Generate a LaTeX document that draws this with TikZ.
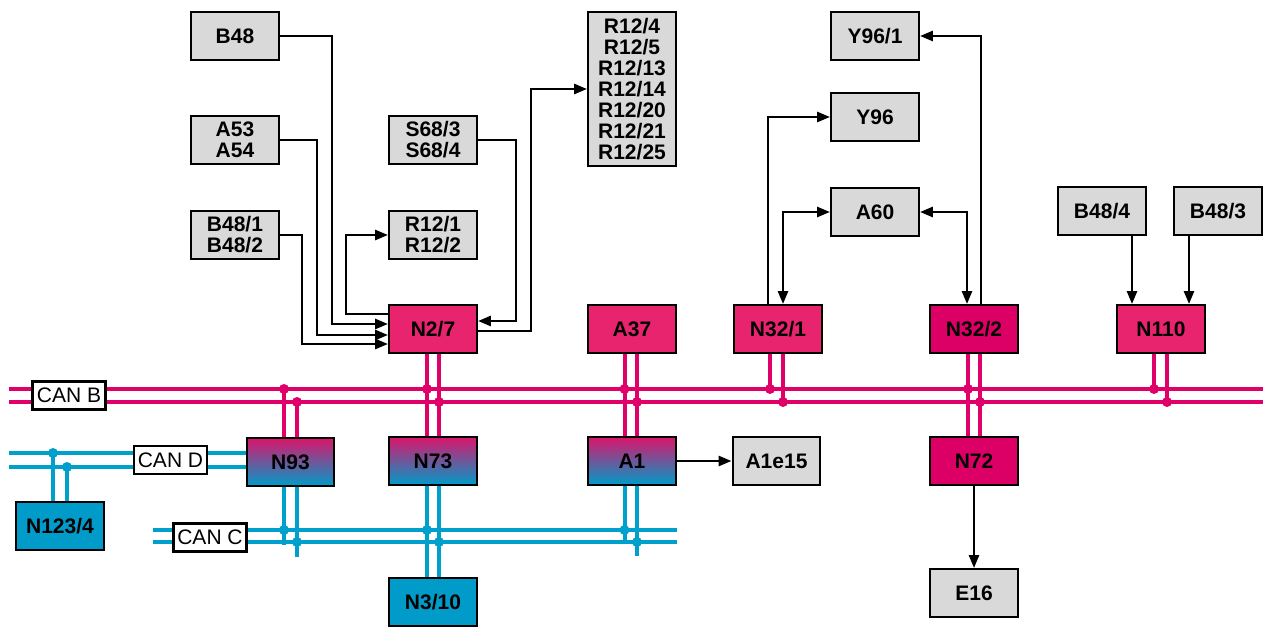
\documentclass[tikz,border=0pt]{standalone}
\usepackage{fontspec}
\setmainfont{Liberation Sans}
\usetikzlibrary{arrows.meta,positioning}
\definecolor{busmag}{HTML}{E0006A}
\definecolor{busblue}{HTML}{00A0CC}
\definecolor{ecupink}{HTML}{E8246F}
\definecolor{ecudeep}{HTML}{DC0066}
\definecolor{ecublue}{HTML}{009BC8}
\definecolor{boxgrey}{HTML}{D9D9D9}
\definecolor{gradtop}{HTML}{DA156C}
\definecolor{gradmid}{HTML}{9A7896}

\begin{document}
\begin{tikzpicture}[x=1pt,y=-1pt,
  unit/.style={rectangle,draw=black,line width=2.4pt,minimum width=87.5pt,minimum height=47.5pt,
    inner sep=0pt,align=center,font=\fontsize{21}{21}\selectfont\bfseries},
  part/.style={unit,fill=boxgrey},
  ecu/.style={unit,fill=ecupink},
  ecudark/.style={unit,fill=ecudeep},
  ecucan/.style={unit,fill=ecublue},
  gateway/.style={unit,top color=gradtop,middle color=gradmid,bottom color=ecublue},
  canlabel/.style={rectangle,draw=black,line width=2.4pt,fill=white,minimum width=73pt,minimum height=28pt,
    inner sep=0pt,font=\fontsize{21}{21}\selectfont},
  wire/.style={line width=2.6pt,-{Triangle[length=13pt,width=10pt]}},
  wire2/.style={line width=2.6pt,{Triangle[length=13pt,width=10pt]}-{Triangle[length=13pt,width=10pt]}},
  canb/.style={busmag,line width=4pt},
  canc/.style={busblue,line width=4pt}]
\useasboundingbox (0,0) rectangle (1263,628);

% sensors and actuators
\node[part] (b48) at (235,36) {B48};
\node[part] (a53) at (235,140) {A53\\A54};
\node[part] (b481) at (235,235) {B48/1\\B48/2};
\node[part] (s68) at (433,140) {S68/3\\S68/4};
\node[part] (r121) at (433,235) {R12/1\\R12/2};
\node[part,minimum height=153.5pt] (r124) at (632,89) {R12/4\\R12/5\\R12/13\\R12/14\\R12/20\\R12/21\\R12/25};
\node[part] (y961) at (875,36) {Y96/1};
\node[part] (y96) at (875,117) {Y96};
\node[part] (a60) at (875,212) {A60};
\node[part] (b484) at (1102,211) {B48/4};
\node[part] (b483) at (1218,211) {B48/3};
\node[part] (a1e15) at (776.5,461) {A1e15};
\node[part] (e16) at (974,593) {E16};

% control units
\node[ecu] (n27) at (433,329) {N2/7};
\node[ecu] (a37) at (632,329) {A37};
\node[ecu] (n321) at (778,329) {N32/1};
\node[ecudark] (n322) at (974,329) {N32/2};
\node[ecu] (n110) at (1161,329) {N110};
\node[ecudark] (n72) at (974,461) {N72};
\node[gateway] (n93) at (290.5,462) {N93};
\node[gateway] (n73) at (433,461) {N73};
\node[gateway] (a1) at (632,461) {A1};
\node[ecucan] (n1234) at (60,526) {N123/4};
\node[ecucan] (n310) at (433,602) {N3/10};

% bus lines
\draw[canb] (9,389) -- (1263,389);
\draw[canb] (9,402) -- (1263,402);
\draw[canc] (9,453) -- (n93.west |- 0,453);
\draw[canc] (9,467) -- (n93.west |- 0,467);
\draw[canc] (153,530) -- (677,530);
\draw[canc] (153,542) -- (677,542);

% bus taps
\draw[canb] (284,389) -- ([xshift=-6.5pt]n93.north);
\draw[canb] (297,402) -- ([xshift=6.5pt]n93.north);
\draw[canc] ([xshift=-6.5pt]n93.south) -- ++(0,58);
\draw[canc] ([xshift=6.5pt]n93.south) -- ++(0,70);
\draw[canb] ([xshift=-6pt]n27.south) -- ([xshift=-6pt]n73.north);
\draw[canb] ([xshift=6pt]n27.south) -- ([xshift=6pt]n73.north);
\draw[canc] ([xshift=-6pt]n73.south) -- ([xshift=-6pt]n310.north);
\draw[canc] ([xshift=6pt]n73.south) -- ([xshift=6pt]n310.north);
\draw[canb] ([xshift=-7.5pt]a37.south) -- ([xshift=-7.5pt]a1.north);
\draw[canb] ([xshift=5pt]a37.south) -- ([xshift=5pt]a1.north);
\draw[canc] ([xshift=-7.5pt]a1.south) -- ++(0,58);
\draw[canc] ([xshift=5pt]a1.south) -- ++(0,70);
\draw[canb] ([xshift=-8pt]n321.south) -- ++(0,35);
\draw[canb] ([xshift=5pt]n321.south) -- ++(0,48);
\draw[canb] ([xshift=-6pt]n322.south) -- ([xshift=-6pt]n72.north);
\draw[canb] ([xshift=6pt]n322.south) -- ([xshift=6pt]n72.north);
\draw[canb] ([xshift=-7pt]n110.south) -- ++(0,35);
\draw[canb] ([xshift=6pt]n110.south) -- ++(0,48);
\draw[canc] (53,453) -- ([xshift=-7pt]n1234.north);
\draw[canc] (67,467) -- ([xshift=7pt]n1234.north);

% junction dots
\foreach \xa/\xb in {284/297,427/439,624.5/637,770/783,968/980,1154/1167}
  {\fill[busmag] (\xa,389) circle (5pt);
   \fill[busmag] (\xb,402) circle (5pt);}
\foreach \xa/\xb in {284/297,427/439,624.5/637}
  {\fill[busblue] (\xa,530) circle (5pt);
   \fill[busblue] (\xb,542) circle (5pt);}
\fill[busblue] (53,453) circle (5pt);
\fill[busblue] (67,467) circle (5pt);

\node[canlabel] (canB) at (69,395.5) {CAN B};
\node[canlabel] (canD) at (170.5,460) {CAN D};
\node[canlabel] (canC) at (210,537.5) {CAN C};

% signal lines
\draw[wire] (b48.east) -- ++(52,0) |- ([yshift=5pt]n27.west);
\draw[wire] (a53.east) -- ++(37,0) |- ([yshift=-6pt]n27.west);
\draw[wire] (b481.east) -- ++(22,0) |- ([yshift=-15pt]n27.west);
\draw[wire] ([yshift=15pt]n27.west) -- ++(-42,0) |- (r121.west);
\draw[wire] (s68.east) -- ++(38,0) |- ([yshift=8pt]n27.east);
\draw[wire] ([yshift=-2pt]n27.east) -- ++(53,0) |- (r124.west);
\draw[wire] ([xshift=-10pt]n321.north) |- (y96.west);
\draw[wire2] ([xshift=5pt]n321.north) |- (a60.west);
\draw[wire2] (a60.east) -| ([xshift=-7pt]n322.north);
\draw[wire] ([xshift=7pt]n322.north) |- (y961.east);
\draw[wire] ([xshift=30pt]b484.south) -- ([xshift=-29pt]n110.north);
\draw[wire] ([xshift=-29pt]b483.south) -- ([xshift=28pt]n110.north);
\draw[wire] (a1.east) -- (a1e15.west);
\draw[wire] (n72.south) -- (e16.north);
\end{tikzpicture}
\end{document}
